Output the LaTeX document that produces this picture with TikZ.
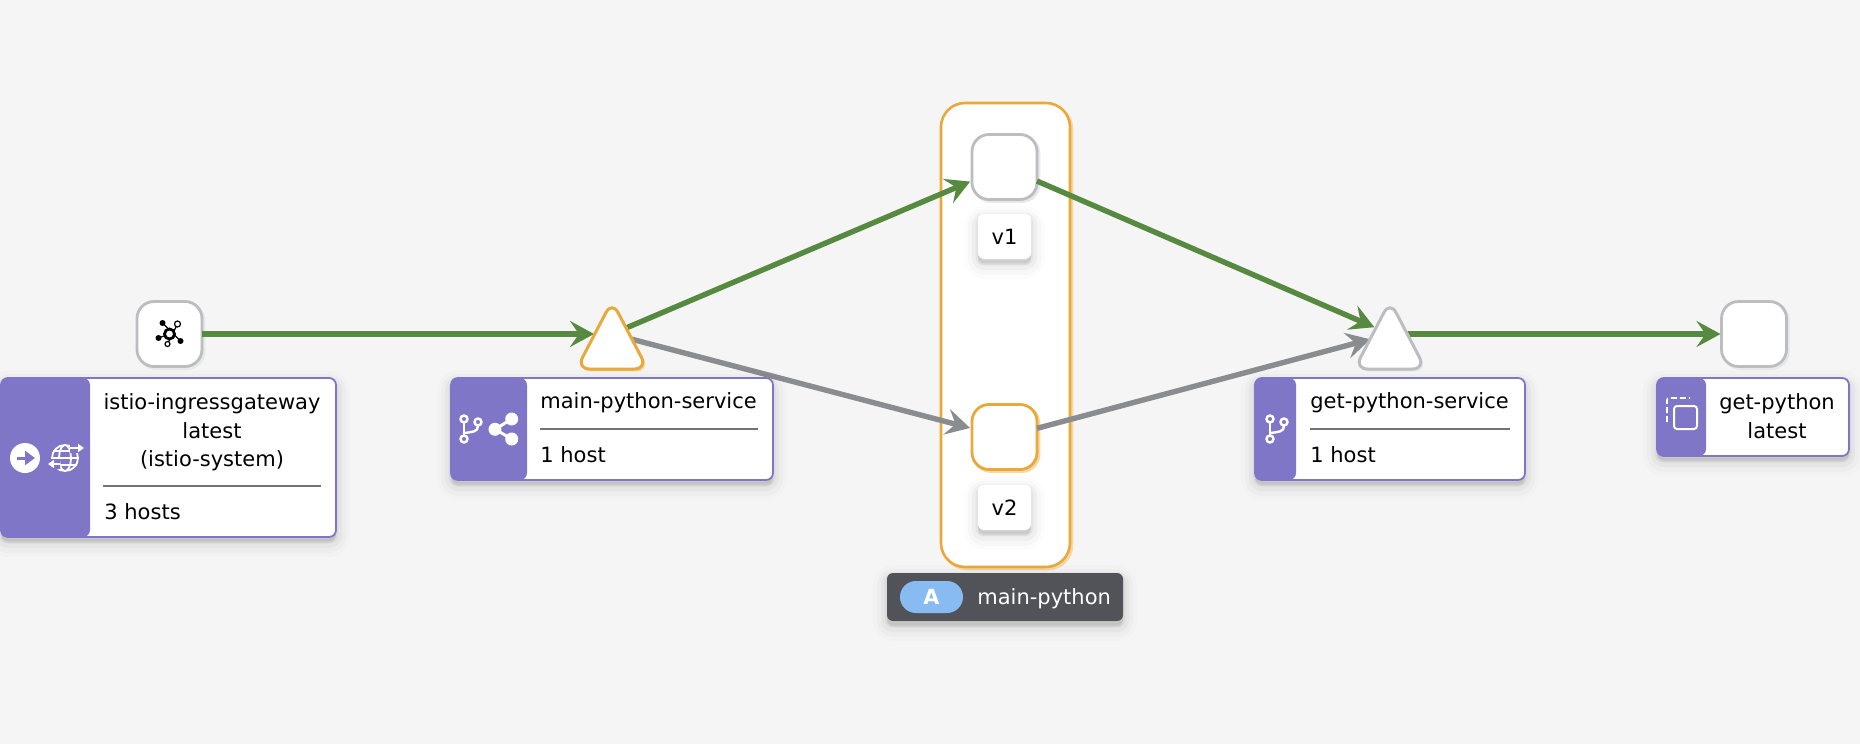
\documentclass[tikz,border=0pt]{standalone}
\usepackage{fontspec}
\setmainfont{DejaVu Sans}
\definecolor{PageGray}{HTML}{F5F5F5}
\definecolor{EdgeGreen}{HTML}{558A40}
\definecolor{EdgeGray}{HTML}{8A8D90}
\definecolor{TabPurple}{HTML}{8076C8}
\definecolor{Amber}{HTML}{E8A93A}
\definecolor{NodeGray}{HTML}{BBBDC1}
\definecolor{LabelDark}{HTML}{525358}
\definecolor{PillBlue}{HTML}{88BBF2}
\definecolor{RuleGray}{HTML}{737373}
\usetikzlibrary{arrows.meta,shadows,positioning,calc}
\newcommand\trimark[2]{\draw[trishape,draw=#2,#2 rim] ($(#1.center)+(0,-33)$) -- ($(#1.center)+(35.5,35)$)
  -- ($(#1.center)+(-35.5,35)$) -- cycle;}
\newcommand\branchicon[2]{\begin{scope}[shift={(#1,#2)},white,line width=1.2pt]
\draw (0,-7) -- (0,6);
\draw (14,-3) .. controls (14,3) and (8,3) .. (0,4);
\draw[fill=TabPurple] (0,-10) circle (3.5) (0,10) circle (3.5) (14,-7) circle (3.5);
\end{scope}}
\begin{document}
\begin{tikzpicture}
[x=.5pt,y=-.5pt,font=\fontsize{10.5}{14.25}\selectfont,
   softshadow/.style={general shadow={shadow yshift=-3pt,draw=black,fill=black,line width=14pt,opacity=.012,line join=round},
     general shadow={shadow yshift=-3pt,draw=black,fill=black,line width=10pt,opacity=.018,line join=round},
     general shadow={shadow yshift=-2.5pt,draw=black,fill=black,line width=6pt,opacity=.03,line join=round},
     general shadow={shadow yshift=-2pt,draw=black,fill=black,line width=2.5pt,opacity=.045,line join=round}},
   NodeGray rim/.style={general shadow={shadow xshift=1pt,shadow yshift=-1pt,draw=NodeGray!35,fill=NodeGray!35}},
   Amber rim/.style={general shadow={shadow xshift=1pt,shadow yshift=-1pt,draw=Amber!45,fill=Amber!45}},
   trishape/.style={fill=white,line width=1.5pt,rounded corners=6.5pt,line join=round},
   tribox/.style={rectangle,minimum width=12pt,minimum height=33pt,inner sep=0pt,outer sep=0pt},
   wlnode/.style={rectangle,rounded corners=8.5pt,minimum size=32.5pt,inner sep=0pt,outer sep=0pt,fill=white,line width=1.4pt},
   appbox/.style={rectangle,rounded corners=12pt,minimum width=64.5pt,minimum height=232pt,fill=white,draw=Amber,
     line width=1.3pt,Amber rim},
   verlbl/.style={rectangle,rounded corners=3pt,minimum width=26.5pt,minimum height=22.5pt,inner sep=0pt,fill=white,softshadow},
   svcbox/.style={rectangle,rounded corners=3.5pt,inner sep=0pt,outer sep=0pt,fill=white,draw=TabPurple,line width=.9pt,softshadow},
   tab/.style={path picture={\fill[TabPurple] (path picture bounding box.north west) rectangle
     ([xshift=#1]path picture bounding box.south west);}},
   svcrule/.style={draw=RuleGray,line width=1pt},
   txt/.style={inner sep=0pt,align=center},
   okedge/.style={draw=EdgeGreen,line width=2.7pt,-{Stealth[length=12pt,width=13pt,inset=4.5pt]}},
   idledge/.style={draw=EdgeGray,line width=2.7pt,-{Stealth[length=12pt,width=13pt,inset=4.5pt]}}]
\fill[PageGray] (0,0) rectangle (1860,744);
\useasboundingbox (0,0) rectangle (1860,744);

\node[appbox] (app) at (1005.5,335) {};
\node[wlnode,draw=NodeGray,NodeGray rim] (gateway) at (169.5,334) {};
\node[tribox] (mainsvc) at (612,334) {};
\node[wlnode,draw=NodeGray,NodeGray rim] (v1) at (1004.5,167) {};
\node[wlnode,draw=Amber,Amber rim] (v2) at (1004.5,437) {};
\node[tribox] (getsvc) at (1390,334) {};
\node[wlnode,draw=NodeGray,NodeGray rim] (getpy) at (1754,334) {};
\node[verlbl,below=7pt of v1] (v1lbl) {v1};
\node[verlbl,below=7.5pt of v2] (v2lbl) {v2};

\draw[okedge,shorten >=3pt] (gateway.east) -- (mainsvc.west);
\draw[okedge,shorten >=1pt] (mainsvc) -- (v1);
\draw[idledge,shorten >=1pt] (mainsvc) -- (v2);
\draw[okedge,shorten >=2pt] (v1) -- (getsvc);
\draw[idledge,shorten >=4pt] (v2) -- (getsvc);
\draw[okedge,shorten >=.5pt] (getsvc.east) -- (getpy.west);
\trimark{mainsvc}{Amber}
\trimark{getsvc}{NodeGray}

%% hub glyph on the gateway
\begin{scope}[shift={(gateway.center)}]
\draw[black,line width=.6pt] (-7,-11) -- (11,7) (8,-10) -- (-2,10) (-11,4) -- (0,0);
\draw[black,fill=white,line width=1.4pt] (0,0) circle (5);
\fill[black] (-7,-11) circle (3) (-11,4) circle (3) (11,7) circle (3);
\draw[black,fill=white,line width=.6pt] (8,-10) circle (3) (-2,10) circle (2.5);
\end{scope}

\node[svcbox,tab=44.5pt,minimum width=167.5pt,minimum height=79.5pt,anchor=north west] (gwbox) at (1,378) {};
\node[svcbox,tab=38pt,minimum width=161pt,minimum height=51pt,anchor=north west] (mainbox) at (451,378) {};
\node[svcbox,tab=20.5pt,minimum width=135pt,minimum height=51pt,anchor=north west] (getbox) at (1255,378) {};
\node[svcbox,tab=24.5pt,minimum width=96pt,minimum height=39pt,anchor=north west] (podbox) at (1657,378) {};

\node[txt] (gwname) at (212,432.5) {istio-ingressgateway\\latest\\(istio-system)};
\draw[svcrule] (103,486) -- (321,486);
\node[txt,anchor=west] (gwhosts) at (104,512) {3 hosts};
\node[txt,anchor=west] (mainname) at (540,403) {main-python-service};
\draw[svcrule] (540,429) -- (758,429);
\node[txt,anchor=west] (mainhosts) at (540,455) {1 host};
\node[txt,anchor=west] (getname) at (1310,403) {get-python-service};
\draw[svcrule] (1310,429) -- (1510,429);
\node[txt,anchor=west] (gethosts) at (1310,455) {1 host};
\node[txt] (podname) at (1777,416) {get-python\\latest};

%% tab glyphs
\fill[white] (25,458) circle (15);
\draw[TabPurple,line width=1.5pt,-{Stealth[length=5pt,width=7pt,inset=0pt]}] (17,458) -- (35,458);
\draw[white,line width=.9pt] (65,458) circle (13) (65,458) ellipse (6 and 13)
  (53,451) -- (77,451) (53,458) -- (77,458) (53,465) -- (77,465);
\fill[TabPurple] (70,443) rectangle (84,453) (46,459) rectangle (60,469);
\draw[white,line width=.8pt,-{Stealth[length=3pt,width=4pt,inset=0pt]}] (70,448) -- (84,448);
\draw[white,line width=.8pt,-{Stealth[length=3pt,width=4pt,inset=0pt]}] (60,464) -- (48,464);
\branchicon{464}{429}
\branchicon{1270}{429}
\draw[white,line width=1.5pt] (511.7,419) -- (495,429.3) -- (511.7,439);
\fill[white] (511.7,419) circle (6.5) (495,429.3) circle (6.5) (511.7,439) circle (6.5);
\draw[white,line width=.8pt,dashed,dash pattern=on 3pt off 1.5pt,rounded corners=1pt] (1667,422) -- (1667,398) -- (1690,398);
\draw[white,line width=1pt,rounded corners=1.5pt] (1674,406) rectangle (1697,429);

%% namespace label under the app box
\node[rectangle,rounded corners=3pt,minimum width=118pt,minimum height=24pt,inner sep=0pt,outer sep=0pt,fill=LabelDark,
  softshadow] (applbl) at (1005,597) {};
\node[rectangle,rounded corners=8pt,minimum width=31.5pt,minimum height=16pt,inner sep=0pt,fill=PillBlue,font=\fontsize{10.4}{12}\selectfont\bfseries,text=white]
  (appbadge) at (931.5,597) {A};
\node[txt,anchor=west,text=white] (appname) at (977,599) {main-python};
%%
\end{tikzpicture}
\end{document}
